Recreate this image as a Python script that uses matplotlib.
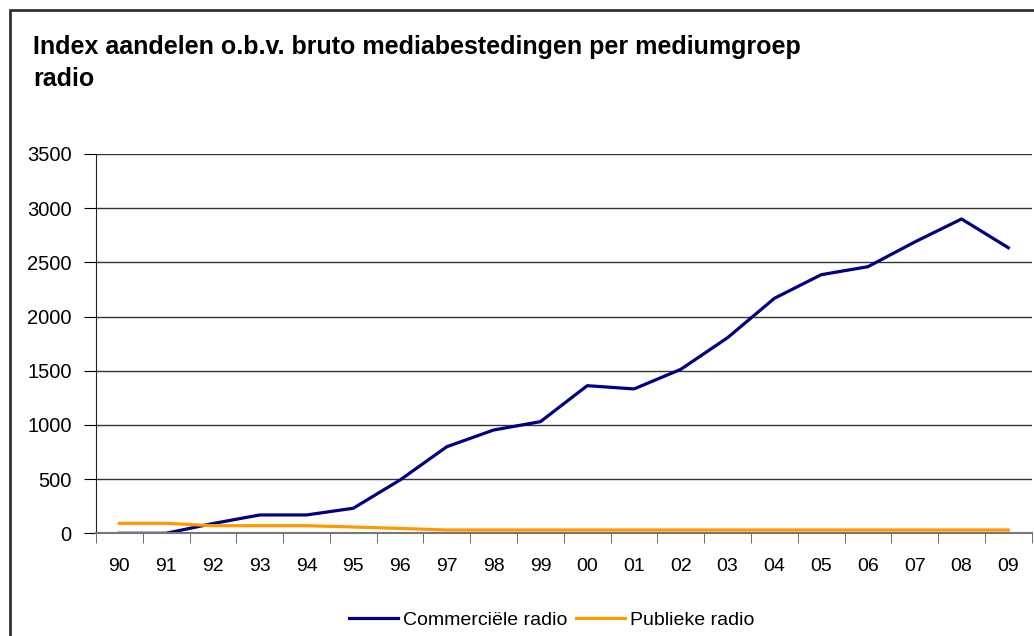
import matplotlib.pyplot as plt
from matplotlib.patches import Rectangle

plt.rcParams['font.family'] = ['Liberation Sans', 'DejaVu Sans']

jaren = ['90', '91', '92', '93', '94', '95', '96', '97', '98', '99',
         '00', '01', '02', '03', '04', '05', '06', '07', '08', '09']
commercieel = [0, 0, 90, 169, 169, 231, 492, 799, 953, 1030,
               1362, 1332, 1513, 1805, 2168, 2386, 2460, 2688, 2900, 2635]
publiek = [92, 92, 70, 70, 70, 58, 45, 30, 30, 30,
           30, 30, 30, 30, 30, 30, 30, 30, 30, 30]

fig = plt.figure(figsize=(10.34, 6.36), dpi=100)
ax = fig.add_axes([0.0928, 0.1615, 0.905, 0.5964])

# kader rond de hele grafiek
fig.patches.append(Rectangle((10 / 1034, -0.1), 1.2, 1 - 10 / 636 + 0.1,
                             transform=fig.transFigure, fill=False,
                             edgecolor='#333333', linewidth=2))

x = range(len(jaren))
ax.plot(x, commercieel, color='#000080', linewidth=2.3, label='Commerciële radio')
ax.plot(x, publiek, color='#FF9900', linewidth=2.3, label='Publieke radio')

ax.set_xlim(-0.5, len(jaren) - 0.5)
ax.set_ylim(0, 3500)
ax.set_yticks(range(0, 3501, 500))
ax.set_xticks(x)
ax.set_xticklabels(jaren)
ax.set_xticks([i - 0.5 for i in range(len(jaren) + 1)], minor=True)
ax.tick_params(axis='x', which='major', length=0, pad=18, labelsize=14)
ax.tick_params(axis='x', which='minor', length=7, direction='out', color='#555555')
ax.tick_params(axis='y', length=9, direction='out', pad=8.5, labelsize=14.5)

ax.grid(axis='y', color='#333333', linewidth=1)
ax.set_axisbelow(True)
for kant in ['top', 'right']:
    ax.spines[kant].set_visible(False)
ax.spines['left'].set_color('#222222')
ax.spines['bottom'].set_color('#777777')
ax.spines['bottom'].set_linewidth(1.5)

fig.text(33 / 1034, 1 - 35 / 636,
         'Index aandelen o.b.v. bruto mediabestedingen per mediumgroep\nradio',
         fontsize=18, fontweight='bold', va='top', ha='left', linespacing=1.4)

ax.legend(loc='center', bbox_to_anchor=(552 / 1034, 1 - 620 / 636),
          bbox_transform=fig.transFigure, ncol=2, frameon=False,
          fontsize=14, handlelength=2.5, handletextpad=0.26, columnspacing=0.46)

fig.savefig('out.png', dpi=100)
